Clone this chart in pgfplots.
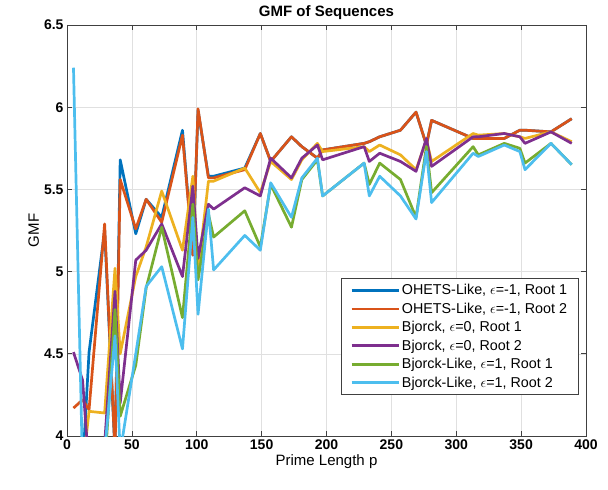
\documentclass[border=0pt]{standalone}
\usepackage{pgfplots}
\pgfplotsset{compat=1.18}
\usepackage{pgfplotstable}
\usepackage{fontspec}
\setmainfont{Liberation Sans}
\definecolor{c1}{rgb}{0,0.447,0.741}
\definecolor{c2}{rgb}{0.85,0.325,0.098}
\definecolor{c3}{rgb}{0.929,0.694,0.125}
\definecolor{c4}{rgb}{0.494,0.184,0.556}
\definecolor{c5}{rgb}{0.466,0.674,0.188}
\definecolor{c6}{rgb}{0.301,0.745,0.933}
\pgfplotstableread{
p   b1   o2   y1   p2   g1   l2
5   3.80 4.17 3.80 4.51 3.80 6.24
12  3.80 4.22 3.80 4.34 3.80 3.80
17  4.51 4.16 4.15 3.80 3.80 3.80
29  5.25 5.29 4.14 3.95 3.80 3.90
37  3.90 3.90 5.02 4.88 4.77 4.61
41  5.68 5.56 4.50 4.20 4.12 3.90
53  5.23 5.26 4.97 5.07 4.43 4.50
61  5.44 5.44 5.15 5.13 4.90 4.91
73  5.33 5.30 5.49 5.29 5.27 5.03
89  5.86 5.83 5.13 4.97 4.72 4.53
97  5.10 5.10 5.58 5.52 5.41 5.33
101 5.98 5.99 5.00 5.08 4.95 4.74
109 5.58 5.57 5.55 5.41 5.35 5.38
113 5.58 5.57 5.55 5.38 5.21 5.01
137 5.63 5.62 5.63 5.51 5.37 5.22
149 5.84 5.84 5.48 5.46 5.15 5.13
157 5.67 5.67 5.67 5.69 5.53 5.54
173 5.82 5.82 5.56 5.57 5.27 5.33
181 5.76 5.76 5.68 5.69 5.56 5.57
193 5.69 5.69 5.78 5.77 5.68 5.69
197 5.74 5.74 5.73 5.68 5.46 5.46
229 5.78 5.78 5.76 5.76 5.66 5.66
233 5.79 5.79 5.73 5.67 5.53 5.46
241 5.82 5.82 5.77 5.72 5.66 5.58
257 5.86 5.86 5.71 5.67 5.56 5.46
269 5.97 5.97 5.62 5.61 5.33 5.32
277 5.77 5.77 5.80 5.81 5.76 5.73
281 5.92 5.92 5.67 5.64 5.48 5.42
313 5.81 5.81 5.84 5.82 5.76 5.72
317 5.81 5.81 5.83 5.82 5.71 5.70
337 5.81 5.81 5.84 5.84 5.78 5.77
349 5.86 5.86 5.82 5.82 5.75 5.73
353 5.86 5.86 5.81 5.78 5.66 5.62
373 5.85 5.85 5.85 5.85 5.78 5.78
389 5.93 5.93 5.79 5.78 5.65 5.65
}\data
\begin{document}
\begin{tikzpicture}
\begin{axis}[
  name=ax,
  scale only axis,
  width=519pt, height=411pt,
  xmin=0, xmax=400, ymin=4, ymax=6.5,
  xtick={0,50,...,400},
  ytick={4,4.5,5,5.5,6,6.5},
  yticklabels={4,4.5,5,5.5,6,6.5},
  xticklabels={0,50,100,150,200,250,300,350,400},
  tick align=inside,
  tick pos=both,
  major tick length=5pt,
  axis line style={draw=black!75, line width=0.7pt},
  tick style={draw=black!75, line width=0.7pt},
  grid=major,
  grid style={draw=black!12, line width=0.6pt},
  ticklabel style={font=\fontsize{14}{16}\selectfont\bfseries},
  title={\fontsize{15}{17}\selectfont\bfseries GMF of Sequences},
  title style={yshift=-4pt},
  xlabel={\fontsize{15}{17}\selectfont Prime Length p},
  ylabel={\fontsize{15}{17}\selectfont GMF},
  xlabel style={yshift=2pt},
  ylabel style={yshift=-2pt},
  legend style={at={(0.985,0.1)}, anchor=south east, draw=black!75, fill=white,
    font=\fontsize{14.3}{16}\selectfont, row sep=2.6pt, inner xsep=9pt, inner ysep=4pt},
  legend cell align=left,
  legend image code/.code={\draw[line width=2.7pt] (0pt,0pt) -- (47pt,0pt);},
  every axis plot/.append style={line width=2.7pt, line join=round, mark=none},
]
\addplot[c1] table[x=p,y=b1] {\data};
\addlegendentry{OHETS-Like, $\epsilon$=-1, Root 1}
\addplot[c2] table[x=p,y=o2] {\data};
\addlegendentry{OHETS-Like, $\epsilon$=-1, Root 2}
\addplot[c3] table[x=p,y=y1] {\data};
\addlegendentry{Bjorck, $\epsilon$=0, Root 1}
\addplot[c4] table[x=p,y=p2] {\data};
\addlegendentry{Bjorck, $\epsilon$=0, Root 2}
\addplot[c5] table[x=p,y=g1] {\data};
\addlegendentry{Bjorck-Like, $\epsilon$=1, Root 1}
\addplot[c6] table[x=p,y=l2] {\data};
\addlegendentry{Bjorck-Like, $\epsilon$=1, Root 2}
\end{axis}
\pgfresetboundingbox
\path[use as bounding box] ([shift={(-67pt,-53pt)}]ax.south west) rectangle ([shift={(22pt,25pt)}]ax.north east);
\end{tikzpicture}
\end{document}
